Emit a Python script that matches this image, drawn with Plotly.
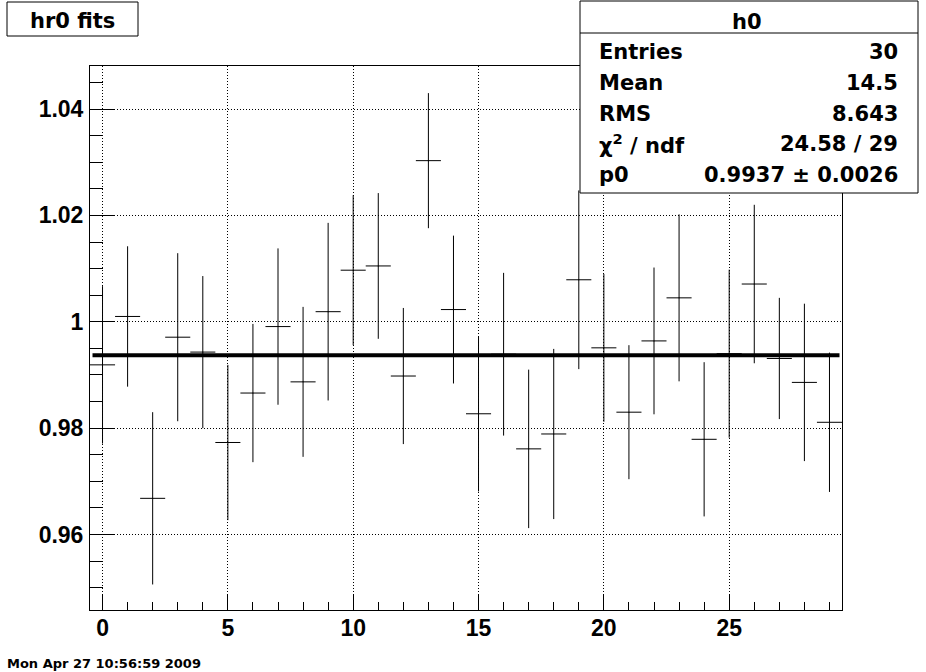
import plotly.graph_objects as go

# ---------------- data ----------------
bins = list(range(30))
ratio = [0.9919, 1.0010, 0.9668, 0.9971, 0.9943, 0.9773, 0.9866, 0.9991, 0.9887, 1.0019,
         1.0097, 1.0105, 0.9898, 1.0303, 1.0023, 0.9827, 0.9939, 0.9761, 0.9789, 1.0079,
         0.9951, 0.9830, 0.9964, 1.0045, 0.9779, 0.9940, 1.0071, 0.9931, 0.9886, 0.9811]
ratio_err = [0.0148, 0.0132, 0.0162, 0.0158, 0.0143, 0.0146, 0.0130, 0.0147, 0.0141, 0.0167,
             0.0141, 0.0137, 0.0128, 0.0127, 0.0139, 0.0146, 0.0153, 0.0149, 0.0160, 0.0168,
             0.0139, 0.0126, 0.0138, 0.0157, 0.0145, 0.0158, 0.0149, 0.0114, 0.0148, 0.0131]
bin_half_width = 0.5
fit_p0 = 0.9937
fit_x = [-0.4, 29.4]

x_tickvals = [0, 5, 10, 15, 20, 25]
x_ticktext = ["0", "5", "10", "15", "20", "25"]
y_tickvals = [0.96, 0.98, 1.00, 1.02, 1.04]
y_ticktext = ["0.96", "0.98", "1", "1.02", "1.04"]

title_text = "hr0 fits"
date_text = "Mon Apr 27 10:56:59 2009"
stats_title = "h0"
stats_labels = ["Entries", "Mean", "RMS", "χ<sup>2</sup> / ndf", "p0"]
stats_values = ["30", "14.5", "8.643", "24.58 / 29", "0.9937 ± 0.0026"]

# ---------------- geometry helpers ----------------
W, H = 926, 672
L, R, T, B = 90, 842, 66, 610


def px(x):
    return (x - L) / (R - L)


def py(y):
    return (B - y) / (B - T)


TICKFONT = dict(family="Liberation Sans", size=23, color="black", weight="bold")
BOXFONT = dict(family="DejaVu Sans", size=21, color="black", weight="bold")

fig = go.Figure()

fig.add_trace(go.Scatter(
    x=bins, y=ratio, mode="markers",
    marker=dict(size=1, color="black"),
    error_y=dict(type="data", array=ratio_err, symmetric=True, width=0, thickness=1, color="black"),
    error_x=dict(type="constant", value=bin_half_width, width=0, thickness=1, color="black"),
    showlegend=False, hoverinfo="skip",
))

fig.add_trace(go.Scatter(
    x=fit_x, y=[fit_p0] * len(fit_x), mode="lines",
    line=dict(color="black", width=4), showlegend=False, hoverinfo="skip",
))

fig.update_xaxes(
    range=[-0.5, 29.5], tickmode="array", tickvals=x_tickvals, ticktext=x_ticktext,
    ticks="inside", ticklen=16, tickwidth=1, tickcolor="black",
    minor=dict(ticks="inside", ticklen=8, tickwidth=1, tickcolor="black", dtick=1, tick0=0, showgrid=False),
    showgrid=True, gridcolor="black", gridwidth=1, griddash="1px,2px",
    showline=True, linecolor="black", linewidth=1, mirror=True,
    zeroline=False, tickfont=TICKFONT, ticklabelstandoff=-3,
)
fig.update_yaxes(
    range=[0.9458, 1.0481], tickmode="array", tickvals=y_tickvals, ticktext=y_ticktext,
    ticks="inside", ticklen=25, tickwidth=1, tickcolor="black",
    minor=dict(ticks="inside", ticklen=13, tickwidth=1, tickcolor="black", dtick=0.005, tick0=0.95, showgrid=False),
    showgrid=True, gridcolor="black", gridwidth=1, griddash="1px,2px",
    showline=True, linecolor="black", linewidth=1, mirror=True,
    zeroline=False, tickfont=TICKFONT, ticklabelstandoff=1,
)

shapes = [
    # title box
    dict(type="rect", xref="paper", yref="paper", x0=px(7), x1=px(138), y0=py(36), y1=py(2),
         line=dict(color="black", width=1), fillcolor="white", layer="above"),
    # stats box
    dict(type="rect", xref="paper", yref="paper", x0=px(580), x1=px(918), y0=py(193), y1=py(1),
         line=dict(color="black", width=1), fillcolor="white", layer="above"),
    dict(type="line", xref="paper", yref="paper", x0=px(580), x1=px(918), y0=py(33), y1=py(33),
         line=dict(color="black", width=1), layer="above"),
]

annotations = [
    dict(text=title_text, xref="paper", yref="paper", x=px(72), y=py(21), xanchor="center", yanchor="middle",
         showarrow=False, font=BOXFONT),
    dict(text=stats_title, xref="paper", yref="paper", x=px(747), y=py(22), xanchor="center", yanchor="middle",
         showarrow=False, font=BOXFONT),
    dict(text=date_text, xref="paper", yref="paper", x=px(6), y=py(663.5), xanchor="left", yanchor="middle",
         showarrow=False, borderpad=0, font=dict(family="DejaVu Sans", size=13, color="black", weight="bold")),
]
row_y = [52, 83, 114, 144, 175]
for lab, val, yy in zip(stats_labels, stats_values, row_y):
    annotations.append(dict(text=lab, xref="paper", yref="paper", x=px(597), y=py(yy), xanchor="left",
                            yanchor="middle", showarrow=False, font=BOXFONT))
    annotations.append(dict(text=val, xref="paper", yref="paper", x=px(900), y=py(yy), xanchor="right",
                            yanchor="middle", showarrow=False, font=BOXFONT))

fig.update_layout(
    width=W, height=H,
    margin=dict(l=L, r=W - R, t=T, b=H - B, pad=0),
    paper_bgcolor="white", plot_bgcolor="white",
    shapes=shapes, annotations=annotations, showlegend=False,
)

fig.write_html("out.html", config={"displayModeBar": False},
               post_script="document.body.style.margin='0px';document.body.style.padding='0px';")
